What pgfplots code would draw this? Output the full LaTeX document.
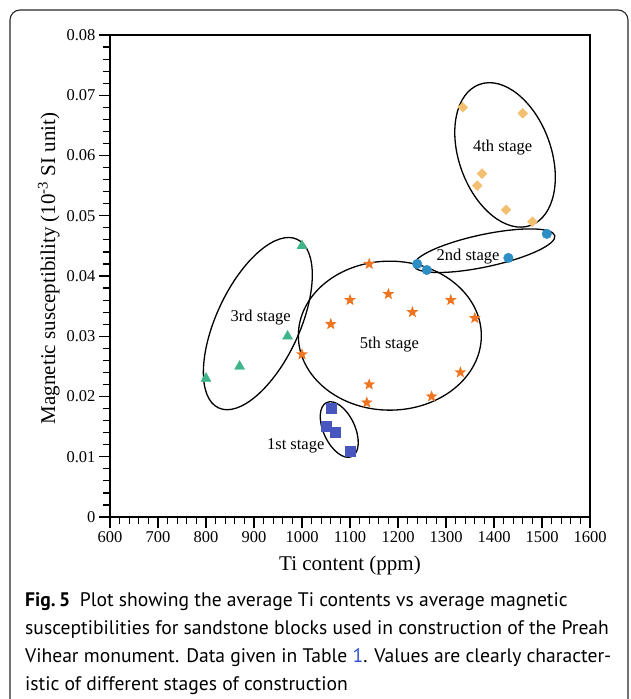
\documentclass[border=0pt]{standalone}
\usepackage{pgfplots}
\pgfplotsset{compat=1.18}
\usepackage{fontspec}
\setmainfont{Liberation Serif}
\newfontfamily\capfont{PT Sans}
\definecolor{sqblue}{RGB}{72,86,192}
\definecolor{trigreen}{RGB}{62,182,138}
\definecolor{starorange}{RGB}{238,118,34}
\definecolor{circblue}{RGB}{44,142,196}
\definecolor{diaorange}{RGB}{242,192,112}
\definecolor{linkblue}{RGB}{50,80,210}

% filled five-pointed star
\pgfdeclareplotmark{fstar}{%
  \pgfpathmoveto{\pgfpointpolar{90}{\pgfplotmarksize}}%
  \pgfpathlineto{\pgfpointpolar{126}{0.42\pgfplotmarksize}}%
  \pgfpathlineto{\pgfpointpolar{162}{\pgfplotmarksize}}%
  \pgfpathlineto{\pgfpointpolar{198}{0.42\pgfplotmarksize}}%
  \pgfpathlineto{\pgfpointpolar{234}{\pgfplotmarksize}}%
  \pgfpathlineto{\pgfpointpolar{270}{0.42\pgfplotmarksize}}%
  \pgfpathlineto{\pgfpointpolar{306}{\pgfplotmarksize}}%
  \pgfpathlineto{\pgfpointpolar{342}{0.42\pgfplotmarksize}}%
  \pgfpathlineto{\pgfpointpolar{18}{\pgfplotmarksize}}%
  \pgfpathlineto{\pgfpointpolar{54}{0.42\pgfplotmarksize}}%
  \pgfpathclose
  \pgfusepathqfill
}

\begin{document}
\begin{tikzpicture}[x=1pt,y=1pt]
\useasboundingbox (0,0) rectangle (630,-699);
\draw[line width=1.1pt, black!85, rounded corners=10pt] (10,-720) -- (10,-10) -- (628,-10) -- (628,-720);

\begin{axis}[
  at={(110pt,-517pt)}, anchor=south west,
  scale only axis, width=480pt, height=482pt,
  xmin=600, xmax=1600, ymin=0, ymax=0.08,
  xtick={600,700,...,1600},
  ytick={0,0.01,0.02,0.03,0.04,0.05,0.06,0.07,0.08},
  minor x tick num=4, minor y tick num=4,
  xtick pos=bottom, ytick pos=left,
  tick align=outside,
  major tick length=11pt, minor tick length=7pt,
  every tick/.style={black, line width=1.2pt},
  axis line style={line width=1.3pt},
  scaled y ticks=false,
  xticklabel style={/pgf/number format/set thousands separator={}},
  yticklabel style={/pgf/number format/fixed, /pgf/number format/precision=2},
  /pgf/number format/assume math mode=true,
  ticklabel style={font=\fontsize{16.5}{19}\selectfont},
  label style={font=\fontsize{21}{25}\selectfont},
  xlabel={Ti content (ppm)},
  xlabel style={yshift=-6pt},
  ylabel={Magnetic susceptibility (10\textsuperscript{-3} SI unit)},
  ylabel style={at={(ticklabel cs:0.52)}, xshift=-2pt},
  clip=false
]
% 1st stage
\addplot[only marks, mark=square*, mark size=5pt, color=sqblue] coordinates {
  (1060,0.018) (1050,0.015) (1070,0.014) (1100,0.011)
};
% 2nd stage
\addplot[only marks, mark=*, mark size=4.8pt, color=circblue] coordinates {
  (1510,0.047) (1430,0.043) (1240,0.042) (1260,0.041)
};
% 3rd stage
\addplot[only marks, mark=triangle*, mark size=5.8pt, color=trigreen] coordinates {
  (1000,0.045) (970,0.030) (870,0.025) (800,0.023)
};
% 4th stage
\addplot[only marks, mark=square*, mark options={rotate=45}, mark size=3.5pt, color=diaorange] coordinates {
  (1335,0.068) (1460,0.067) (1375,0.057) (1365,0.055) (1425,0.051) (1480,0.049)
};
% 5th stage
\addplot[only marks, mark=fstar, mark size=6.2pt, color=starorange] coordinates {
  (1140,0.042) (1180,0.037) (1100,0.036) (1310,0.036) (1230,0.034) (1060,0.032)
  (1360,0.033) (1000,0.027) (1330,0.024) (1140,0.022) (1135,0.019) (1270,0.020)
};

% group outlines
\draw[line width=1.3pt, rotate around={115:(axis cs:1077.6,0.01452)}] (axis cs:1077.6,0.01452) ellipse [x radius=29.8pt, y radius=15.7pt];
\draw[line width=1.3pt, rotate around={12:(axis cs:1380,0.0442)}] (axis cs:1380,0.0442) ellipse [x radius=72pt, y radius=16.2pt];
\draw[line width=1.3pt, rotate around={65:(axis cs:908,0.0321)}] (axis cs:908,0.0321) ellipse [x radius=93pt, y radius=41.6pt];
\draw[line width=1.3pt, rotate around={110:(axis cs:1423,0.0601)}] (axis cs:1423,0.0601) ellipse [x radius=75pt, y radius=46pt];
\draw[line width=1.3pt] (axis cs:1183,0.0301) ellipse [x radius=91.5pt, y radius=74.5pt];

\begin{scope}[every node/.style={font=\fontsize{16.5}{19}\selectfont}]
\node at (axis cs:987,0.0118) {1st stage};
\node at (axis cs:1346,0.0433) {2nd stage};
\node at (axis cs:914,0.0331) {3rd stage};
\node at (axis cs:1418,0.0614) {4th stage};
\node at (axis cs:1182,0.0287) {5th stage};
\end{scope}
\end{axis}

\begin{scope}[every node/.style={anchor=base west, inner sep=0pt, font=\capfont\fontsize{19.6}{23}\selectfont}]
\node at (25,-606) {\textbf{Fig.\,5}\enspace Plot showing the average Ti contents vs average magnetic};
\node at (25,-634) {susceptibilities for sandstone blocks used in construction of the Preah};
\node at (25,-662) {Vihear monument. Data given in Table \textcolor{linkblue}{1}. Values are clearly character-};
\node at (25,-690) {istic of different stages of construction};
\end{scope}
\end{tikzpicture}
\end{document}
